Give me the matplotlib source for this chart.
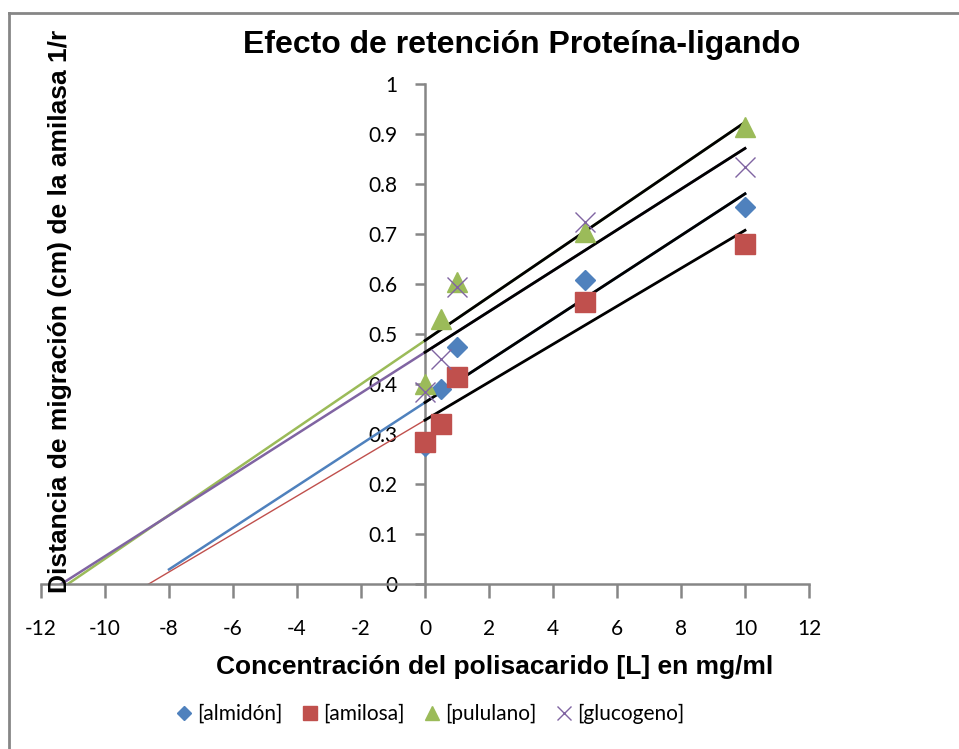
import numpy as np
import matplotlib.pyplot as plt
from matplotlib.lines import Line2D

# concentraciones (mg/ml)
conc = [0, 0.5, 1, 5, 10]

almidon = [0.276, 0.39, 0.475, 0.608, 0.755]
amilosa = [0.285, 0.32, 0.415, 0.565, 0.68]
pululano = [0.40, 0.53, 0.605, 0.705, 0.915]
glucogeno = [0.385, 0.45, 0.595, 0.725, 0.835]

nombres = ['[almidón]', '[amilosa]', '[pululano]', '[glucogeno]']
x_ticks = list(range(-12, 13, 2))
y_ticks = [0, 0.1, 0.2, 0.3, 0.4, 0.5, 0.6, 0.7, 0.8, 0.9, 1]
y_tick_labels = ['0', '0.1', '0.2', '0.3', '0.4', '0.5', '0.6', '0.7', '0.8', '0.9', '1']

# atras: hasta donde se extiende la tendencia hacia x negativo
series = [
    (almidon, '#4F81BD', 'D', 10, 8, 1.8),
    (amilosa, '#C0504D', 's', 14, 9, 1.0),
    (pululano, '#9BBB59', '^', 14, 12, 1.8),
    (glucogeno, '#8064A2', 'x', 14, 12, 1.8),
]

fig = plt.figure(figsize=(9.59, 7.49), dpi=100)
ax = fig.add_axes([41/959, 165/749, 768/959, 500/749])

for datos, col, mk, ms, atras, lw in series:
    m, b = np.polyfit(conc, datos, 1)
    xs = np.array([-atras, 10])
    ax.plot(xs, m*xs + b, color=col, lw=lw, zorder=2)
for datos, col, mk, ms, atras, lw in series:
    m, b = np.polyfit(conc, datos, 1)
    xs = np.array([0, 10])
    ax.plot(xs, m*xs + b, color='black', lw=2, zorder=3)

handles = []
for (datos, col, mk, ms, atras, lw), nom in zip(series, nombres):
    if mk == 'x':
        h, = ax.plot(conc, datos, ls='none', marker=mk, ms=ms, mec=col, mew=1.0,
                     color=col, zorder=4, label=nom)
    else:
        h, = ax.plot(conc, datos, ls='none', marker=mk, ms=ms, mfc=col, mec=col,
                     zorder=4, label=nom)
    handles.append(h)

ax.set_xlim(-12, 12)
ax.set_ylim(0, 1)
ax.spines['left'].set_position(('data', 0))
ax.spines['bottom'].set_position(('data', 0))
ax.spines['right'].set_visible(False)
ax.spines['top'].set_visible(False)
for s in ['left', 'bottom']:
    ax.spines[s].set_color('#868686')
    ax.spines[s].set_linewidth(1.8)
ax.set_xticks(x_ticks)
ax.set_xticklabels([str(t) for t in x_ticks], fontfamily='Lato', fontsize=15)
ax.set_yticks(y_ticks)
ax.set_yticklabels(y_tick_labels, fontfamily='Lato', fontsize=15)
ax.tick_params(axis='x', direction='out', length=10, width=1.8, color='#868686', pad=15)
ax.tick_params(axis='y', direction='out', length=7, width=1.8, color='#868686', pad=13)
ax.patch.set_alpha(0)
for sp in ax.spines.values():
    sp.set_clip_on(False)

fig.text(522/959, 1 - 45/749, 'Efecto de retención Proteína-ligando', ha='center', va='center',
         fontsize=23, fontweight='bold', fontfamily='Liberation Sans')
fig.text(495/959, 1 - 667/749, 'Concentración del polisacarido [L] en mg/ml', ha='center',
         va='center', fontsize=19, fontweight='bold', fontfamily='Liberation Sans')
fig.text(60/959, 1 - 311/749, 'Distancia de migración (cm) de la amilasa 1/r', ha='center',
         va='center', rotation=90, fontsize=19, fontweight='bold', fontfamily='Liberation Sans')

fig.legend(handles=handles, labels=nombres, loc='center', bbox_to_anchor=(431/959, 1 - 714/749),
           ncol=4, frameon=False, prop={'family': 'Lato', 'size': 15}, handlelength=0.6,
           handletextpad=0.3, columnspacing=1.05, markerscale=0.75)

# borde del grafico (solo se ven arriba e izquierda)
fig.add_artist(Line2D([9/959, 9/959], [0, 1 - 13/749], transform=fig.transFigure,
                      color='#868686', lw=2))
fig.add_artist(Line2D([9/959, 1], [1 - 13/749, 1 - 13/749], transform=fig.transFigure,
                      color='#868686', lw=2))

fig.savefig('out.png', dpi=100)
